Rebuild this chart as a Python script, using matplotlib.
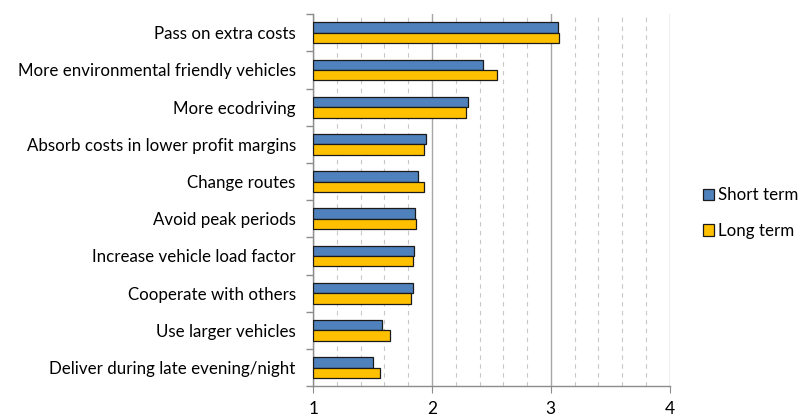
import matplotlib.pyplot as plt
import numpy as np
from matplotlib.ticker import MultipleLocator

CATEGORIES = [
    "Pass on extra costs",
    "More environmental friendly vehicles",
    "More ecodriving",
    "Absorb costs in lower profit margins",
    "Change routes",
    "Avoid peak periods",
    "Increase vehicle load factor",
    "Cooperate with others",
    "Use larger vehicles",
    "Deliver during late evening/night",
]
SHORT_TERM = [3.06, 2.43, 2.30, 1.95, 1.88, 1.86, 1.85, 1.84, 1.58, 1.50]
LONG_TERM = [3.07, 2.55, 2.29, 1.93, 1.93, 1.865, 1.84, 1.82, 1.65, 1.56]
BASE = 1

plt.rcParams["font.family"] = ["Lato", "DejaVu Sans"]

fig = plt.figure(figsize=(8.03, 4.17), dpi=100)
ax = fig.add_axes([0.390, 0.074, 0.444, 0.892])

n = len(CATEGORIES)
y = np.arange(n)[::-1]
h = 0.28
short_w = [v - BASE for v in SHORT_TERM]
long_w = [v - BASE for v in LONG_TERM]
ax.barh(y + h / 2, short_w, left=BASE, height=h, color="#4F81BD",
        edgecolor="#1a1a1a", linewidth=0.9, label="Short term", zorder=3)
ax.barh(y - h / 2, long_w, left=BASE, height=h, color="#FFC000",
        edgecolor="#1a1a1a", linewidth=0.9, label="Long term", zorder=3)

ax.set_xlim(1, 4)
ax.set_ylim(-0.5, n - 0.5)
ax.xaxis.set_major_locator(MultipleLocator(1))
ax.xaxis.set_minor_locator(MultipleLocator(0.2))
ax.grid(axis="x", which="major", color="#a6a6a6", linewidth=1.0, zorder=0)
ax.grid(axis="x", which="minor", color="#c8c8c8", linewidth=0.8,
        linestyle=(0, (4, 4)), zorder=0)

ax.set_yticks(y)
ax.set_yticklabels(CATEGORIES, fontsize=12.2)
ax.set_yticks(np.arange(-0.5, n, 1), minor=True)
ax.tick_params(axis="y", which="major", length=0, pad=12.5)
ax.tick_params(axis="y", which="minor", length=5, color="#8c8c8c", width=1)
ax.tick_params(axis="x", which="major", length=5, color="#8c8c8c", labelsize=12.5, pad=6)
ax.tick_params(axis="x", which="minor", length=0)

for s in ["top", "right"]:
    ax.spines[s].set_visible(False)
for s in ["left", "bottom"]:
    ax.spines[s].set_color("#8c8c8c")
    ax.spines[s].set_linewidth(1)

ax.legend(loc="center left", bbox_to_anchor=(1.05, 0.465), frameon=False,
          fontsize=12.2, handlelength=0.65, handleheight=0.65, handletextpad=0.25,
          labelspacing=1.15)

fig.savefig("out.png", dpi=100)
